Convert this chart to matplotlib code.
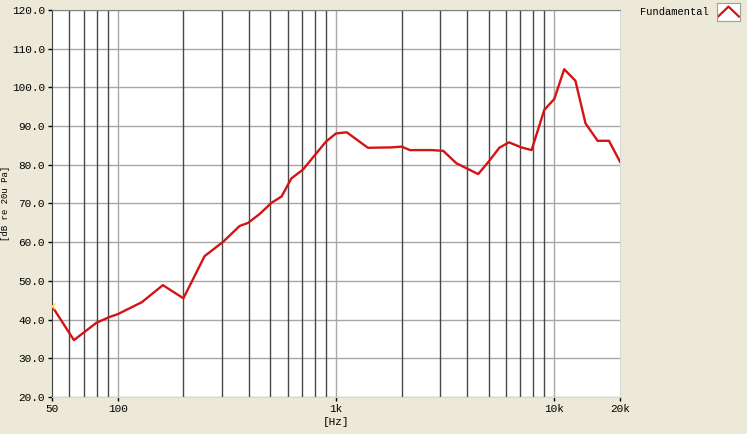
import numpy as np
import matplotlib.pyplot as plt
from matplotlib.ticker import FixedLocator, NullFormatter

# frequency response
freq_hz = [50, 63, 80, 92, 100, 129, 161, 200, 250, 304, 362, 396, 447, 507, 563,
           625, 707, 800, 900, 1000, 1120, 1400, 1800, 2000, 2180, 2750, 3100,
           3560, 3960, 4480, 5000, 5600, 6200, 7060, 7870, 9000, 10000, 11100,
           12500, 13900, 15800, 17800, 20000]
level_db = [43.5, 34.7, 39.2, 40.7, 41.4, 44.5, 48.9, 45.5, 56.4, 60.1, 64.2, 65.0,
            67.3, 70.2, 71.8, 76.5, 78.8, 82.5, 86.0, 88.1, 88.4, 84.4, 84.5, 84.7,
            83.8, 83.8, 83.6, 80.4, 79.1, 77.6, 80.8, 84.4, 85.8, 84.5, 83.8,
            94.2, 97.0, 104.7, 101.7, 90.7, 86.2, 86.2, 80.8]

y_ticks = np.arange(20, 121, 10)
x_ticks = [50, 100, 1000, 10000, 20000]
x_ticklabels = ['50', '100', '1k', '10k', '20k']
decades = [100, 1000, 10000]
minor_lines = [f * m for f in (10, 100, 1000) for m in range(2, 10) if 50 < f * m < 20000]

bg = '#ECE9D8'
mono = ['Liberation Mono', 'DejaVu Sans Mono']

fig = plt.figure(figsize=(7.47, 4.34), dpi=100, facecolor=bg)
ax = fig.add_axes([52 / 747, 1 - 397 / 434, 568 / 747, 387 / 434])
ax.set_facecolor('white')
ax.set_xscale('log')
ax.set_xlim(50, 20000)
ax.set_ylim(20, 120)

# grid
for y in y_ticks:
    ax.axhline(y, color='#a8a8a8', lw=1, zorder=1)
for f in minor_lines:
    ax.axvline(f, color='#484848', lw=1, zorder=1)
for f in decades:
    ax.axvline(f, color='#a8a8a8', lw=1, zorder=1)

ax.plot(freq_hz, level_db, color='#d41414', lw=1.7, zorder=3)
ax.plot(freq_hz[0], level_db[0], marker='x', color='#f0e040', ms=5, mew=1, zorder=4)

ax.xaxis.set_major_locator(FixedLocator(x_ticks))
ax.xaxis.set_minor_locator(FixedLocator([]))
ax.xaxis.set_minor_formatter(NullFormatter())
ax.set_xticklabels(x_ticklabels)
ax.set_yticks(y_ticks)
ax.set_yticklabels([f'{v:.1f}' for v in y_ticks])
ax.tick_params(axis='both', length=3, width=1, color='black', labelsize=8, pad=2)
for lbl in ax.get_xticklabels() + ax.get_yticklabels():
    lbl.set_family(mono)

ax.set_xlabel('[Hz]', fontsize=8, family=mono, labelpad=2)
fig.text(6 / 747, 1 - 203 / 434, '[dB re 20u Pa]', fontsize=6.5, family=mono,
         rotation=90, ha='center', va='center')

ax.spines['left'].set_color('#404040')
ax.spines['top'].set_color('#808080')
ax.spines['right'].set_color('#d8d8d8')
ax.spines['bottom'].set_color('#d8d8d8')

# legend
fig.text(640 / 747, 1 - 12 / 434, 'Fundamental', fontsize=7.5, family=mono,
         va='center', ha='left')
lax = fig.add_axes([717 / 747, 1 - 21 / 434, 23 / 747, 18 / 434])
lax.set_facecolor('white')
lax.set_xlim(0, 1)
lax.set_ylim(0, 1)
lax.plot([0.05, 0.5, 0.95], [0.25, 0.8, 0.25], color='#d41414', lw=1.6)
lax.set_xticks([])
lax.set_yticks([])
for s in lax.spines.values():
    s.set_color('#a0a0a0')

fig.savefig('out.png', dpi=100, facecolor=bg)
